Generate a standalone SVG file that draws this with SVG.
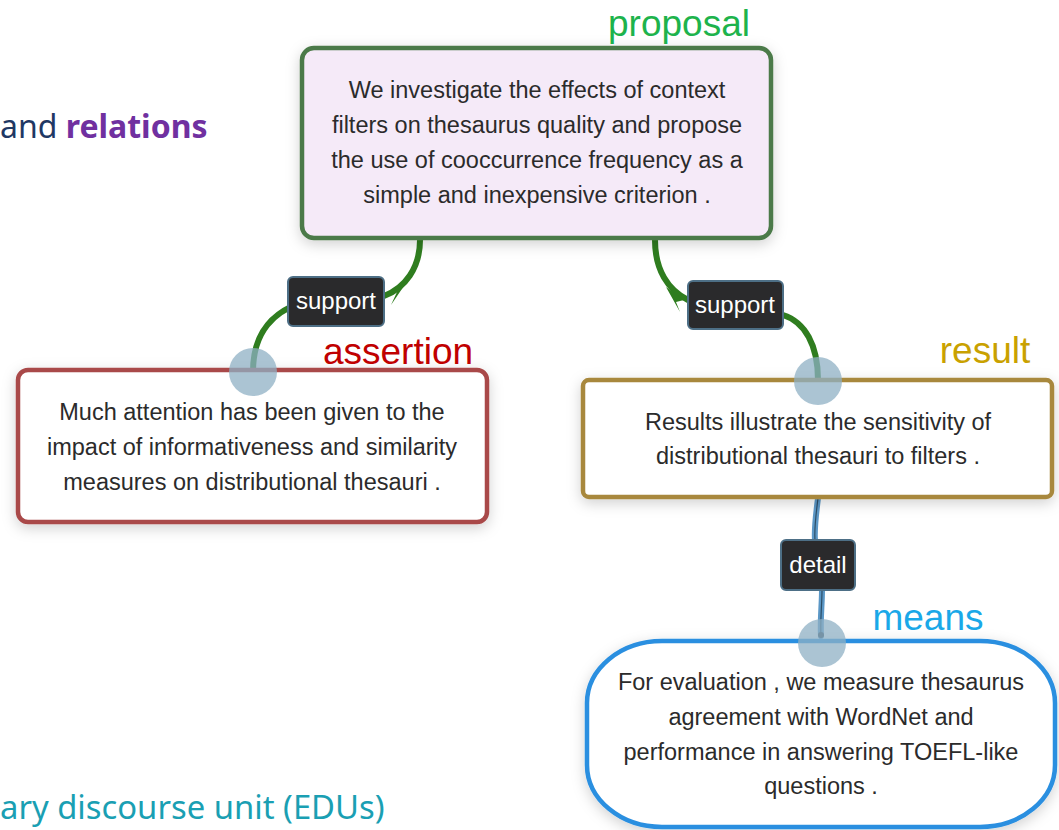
<svg xmlns="http://www.w3.org/2000/svg" width="1059" height="830" viewBox="0 0 1059 830">
  <defs>
    <filter id="shadow" x="-10%" y="-20%" width="120%" height="140%">
      <feDropShadow dx="0" dy="4" stdDeviation="7" flood-color="#000" flood-opacity="0.18"/>
    </filter>
    <style>
      .edu { font-family: "Liberation Sans", Arial, sans-serif; font-size: 23.5px; fill: #2b2b2b; text-anchor: middle; }
      .role { font-family: "Liberation Sans", Arial, sans-serif; font-size: 37px; }
      .box { stroke-width: 4.5; }
      .anchor { fill: #8fb0c4; fill-opacity: 0.75; }
      .rel rect { fill: #2a2a2c; stroke: #4d6f86; stroke-width: 2; }
      .rel text { font-family: "Liberation Sans", Arial, sans-serif; font-size: 24px; fill: #ffffff; text-anchor: middle; }
      .support { fill: none; stroke: #2f7d1f; stroke-width: 6; stroke-linecap: round; }
      .detail { fill: none; stroke: #5b97c6; stroke-width: 6; stroke-linecap: round; }
      .heading { font-family: "Noto Sans", "Open Sans", sans-serif; font-size: 32px; }
    </style>
  </defs>

  <rect width="1059" height="830" fill="#ffffff"/>

  <!-- slide captions partly outside the frame -->
  <text class="heading" x="0" y="138"><tspan fill="#1f3864">and </tspan><tspan fill="#7030a0" font-weight="bold">relations</tspan></text>
  <text class="heading" x="0" y="819" fill="#1a9fb3" style="font-size:32.8px">ary discourse unit (EDUs)</text>

  <!-- connectors -->
  <g id="connectors">
    <!-- support: assertion -> proposal -->
    <path class="support" d="M253,372 C253,330 275,312 300,303"/>
    <path class="support" d="M384,296 C405,288 420,268 420,240"/>
    <path d="M390,293 L408,280 L391,305 L397,292 Z" fill="#2f7d1f"/>
    <!-- support: result -> proposal -->
    <path class="support" d="M655,240 C655,270 668,290 688,300"/>
    <path d="M666,287 L684,300 L676,302 L680,312 Z" fill="#2f7d1f"/>
    <path class="support" d="M783,315 C805,322 818,345 818,380"/>
    <!-- detail: means -> result -->
    <path class="detail" d="M818,498 C816,515 814,528 815,540"/>
    <path class="detail" d="M822,590 C822,605 820,620 821,636"/>
    <path d="M818,498 C816,515 814,528 815,540 M822,590 C822,605 820,620 821,636" fill="none" stroke="#2d4f68" stroke-width="1.2"/>
    <circle cx="821" cy="635" r="3" fill="#2d3f4d"/>
  </g>

  <!-- nodes -->
  <g id="node-proposal">
    <rect class="box" x="302" y="48" width="469" height="190" rx="12" fill="#f5eaf8" stroke="#4b7a48" filter="url(#shadow)"/>
    <text class="edu" x="537" y="98">We investigate the effects of context</text>
    <text class="edu" x="537" y="133">filters on thesaurus quality and propose</text>
    <text class="edu" x="537" y="168">the use of cooccurrence frequency as a</text>
    <text class="edu" x="537" y="203">simple and inexpensive criterion .</text>
    <text class="role" x="679" y="36" fill="#1db34c" text-anchor="middle">proposal</text>
  </g>

  <g id="node-assertion">
    <rect class="box" x="18" y="370" width="469" height="152" rx="10" fill="#ffffff" stroke="#a94848" filter="url(#shadow)"/>
    <text class="edu" x="252" y="420">Much attention has been given to the</text>
    <text class="edu" x="252" y="455">impact of informativeness and similarity</text>
    <text class="edu" x="252" y="490">measures on distributional thesauri .</text>
    <text class="role" x="398" y="364" fill="#c00000" text-anchor="middle">assertion</text>
    <circle class="anchor" cx="253" cy="372" r="24"/>
  </g>

  <g id="node-result">
    <rect class="box" x="583" y="380" width="469" height="117" rx="6" fill="#ffffff" stroke="#a8883e" filter="url(#shadow)"/>
    <text class="edu" x="818" y="430">Results illustrate the sensitivity of</text>
    <text class="edu" x="818" y="464">distributional thesauri to filters .</text>
    <text class="role" x="985" y="363" fill="#c9a100" text-anchor="middle">result</text>
    <circle class="anchor" cx="818" cy="381" r="24"/>
  </g>

  <g id="node-means">
    <rect class="box" x="587" y="641" width="468" height="186" rx="75" ry="62" fill="#ffffff" stroke="#2b8fe0" filter="url(#shadow)"/>
    <text class="edu" x="821" y="690">For evaluation , we measure thesaurus</text>
    <text class="edu" x="821" y="725">agreement with WordNet and</text>
    <text class="edu" x="821" y="760">performance in answering TOEFL-like</text>
    <text class="edu" x="821" y="794">questions .</text>
    <text class="role" x="928" y="630" fill="#1aa8e8" text-anchor="middle">means</text>
    <circle class="anchor" cx="822" cy="643" r="24"/>
  </g>

  <!-- relation labels -->
  <g id="rel-support-1" class="rel">
    <rect x="288" y="277" width="96" height="49" rx="5"/>
    <text x="336" y="309">support</text>
  </g>
  <g id="rel-support-2" class="rel">
    <rect x="688" y="281" width="95" height="48" rx="5"/>
    <text x="735" y="313">support</text>
  </g>
  <g id="rel-detail" class="rel">
    <rect x="781" y="540" width="74" height="50" rx="5"/>
    <text x="818" y="573">detail</text>
  </g>
</svg>
